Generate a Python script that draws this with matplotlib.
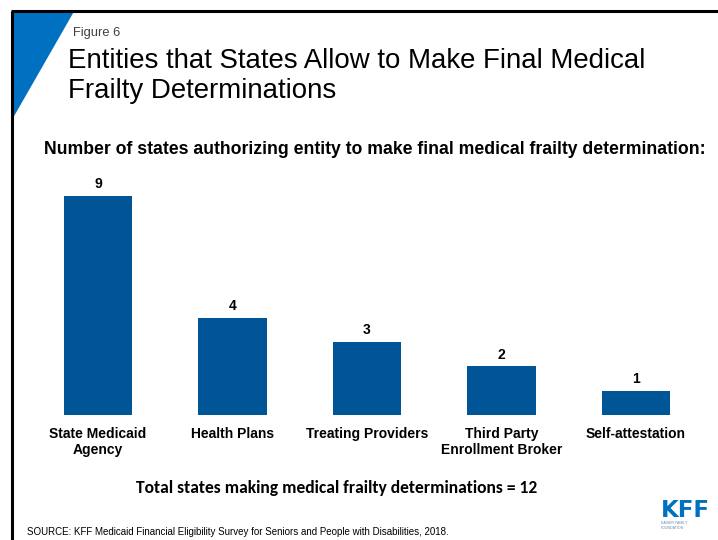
import matplotlib
matplotlib.use("Agg")
import matplotlib.pyplot as plt
from matplotlib.patches import Polygon

categories = ["State Medicaid\nAgency", "Health Plans", "Treating Providers",
              "Third Party\nEnrollment Broker", "Self-attestation"]
values = [9, 4, 3, 2, 1]
total_states = 12

W, H = 718, 540
fig = plt.figure(figsize=(W / 100, H / 100), dpi=100)
fig.patch.set_facecolor("white")


def fx(px):
    return px / W


def fy(py):
    return 1 - py / H


plt.rcParams["font.family"] = ["Liberation Sans", "DejaVu Sans"]
bar_color = "#005596"

# slide frame and corner triangle
frame = fig.add_axes([0, 0, 1, 1], zorder=-1)
frame.set_xlim(0, W)
frame.set_ylim(H, 0)
frame.axis("off")
frame.plot([12, 12], [H + 5, 10.5], color="black", lw=2.2, solid_capstyle="butt")
frame.plot([11, W + 5], [10.5, 10.5], color="black", lw=2.2, solid_capstyle="butt")
frame.add_patch(Polygon([[13, 11.5], [74, 11.5], [13, 118]], closed=True,
                        facecolor="#0070C0", edgecolor="none"))

# header text
fig.text(fx(73), fy(36), "Figure 6", fontsize=9.3, color="#404040", va="baseline")
fig.text(fx(68), fy(68), "Entities that States Allow to Make Final Medical",
         fontsize=19.9, color="black", va="baseline")
fig.text(fx(68), fy(98), "Frailty Determinations",
         fontsize=19.9, color="black", va="baseline")
fig.text(fx(374.5), fy(154),
         "Number of states authorizing entity to make final medical frailty determination:",
         fontsize=12.7, fontweight="bold", ha="center", va="baseline")

# bar chart
left_px, right_px = 30.75, 703.25
bottom_px, top_px = 415, 172
ax = fig.add_axes([fx(left_px), fy(bottom_px), fx(right_px) - fx(left_px),
                   (bottom_px - top_px) / H])
x = list(range(len(categories)))
ax.bar(x, values, width=0.506, color=bar_color)
ax.set_xlim(-0.5, len(categories) - 0.5)
ax.set_ylim(0, 10)
ax.axis("off")
for xi, v in zip(x, values):
    ax.text(xi, v + 0.2, str(v), ha="center", va="bottom",
            fontsize=10, fontweight="bold")
for xi, c in zip(x, categories):
    ax.text(xi, -0.5, c, ha="center", va="top", fontsize=10,
            fontweight="bold", linespacing=1.15)

fig.text(fx(337), fy(493),
         f"Total states making medical frailty determinations = {total_states}",
         ha="center", va="baseline", fontsize=12.6, fontweight="bold",
         family=["Carlito", "Lato", "DejaVu Sans"])

fig.text(fx(27), fy(535),
         "SOURCE: KFF Medicaid Financial Eligibility Survey for Seniors and People with Disabilities, 2018.",
         fontsize=7.0, va="baseline", color="black")

# KFF logo
fig.text(fx(685), fy(517), "KFF", ha="center", va="baseline", fontsize=16.5,
         fontweight="bold", color="#0070C0", family=["DejaVu Sans"])
fig.text(fx(661), fy(521), "KAISER FAMILY\nFOUNDATION", ha="left", va="top",
         fontsize=2.6, color="#6a8fb5", linespacing=1.2)

fig.savefig("out.png", dpi=100)
